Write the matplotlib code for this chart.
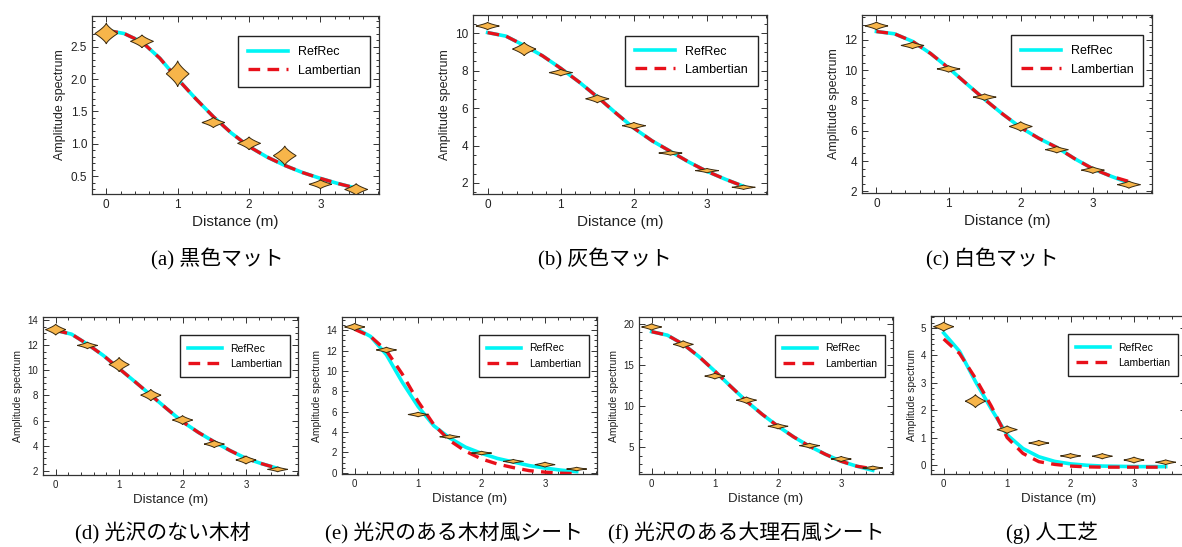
import matplotlib.pyplot as plt
import numpy as np
from matplotlib.ticker import MultipleLocator, AutoMinorLocator

plt.rcParams['font.family'] = ['Liberation Sans', 'DejaVu Sans']

# distances of the measured points and of the model curves
dist = [0, 0.5, 1, 1.5, 2, 2.5, 3, 3.5]
curve_x = [0, 0.25, 0.5, 0.75, 1, 1.25, 1.5, 1.75, 2, 2.25, 2.5, 2.75, 3, 3.25, 3.5]

# (a) black mat
meas_a = [2.70, 2.58, 2.08, 1.33, 1.01, 0.82, 0.38, 0.30]
spread_a = [0.16, 0.10, 0.20, 0.08, 0.10, 0.15, 0.07, 0.09]
refrec_a = [2.75, 2.70, 2.57, 2.32, 2.00, 1.70, 1.42, 1.17, 0.96, 0.80, 0.67, 0.56, 0.47, 0.39, 0.32]
lamb_a = [2.75, 2.70, 2.57, 2.32, 2.00, 1.70, 1.42, 1.17, 0.96, 0.80, 0.67, 0.56, 0.47, 0.39, 0.32]

# (b) gray mat
meas_b = [10.39, 9.16, 7.90, 6.50, 5.06, 3.60, 2.66, 1.77]
spread_b = [0.20, 0.36, 0.18, 0.22, 0.18, 0.12, 0.12, 0.12]
refrec_b = [10.04, 9.85, 9.35, 8.80, 8.13, 7.40, 6.60, 5.75, 4.93, 4.25, 3.69, 3.12, 2.62, 2.20, 1.82]
lamb_b = [10.04, 9.85, 9.35, 8.80, 8.13, 7.40, 6.60, 5.75, 4.93, 4.25, 3.69, 3.12, 2.62, 2.20, 1.82]

# (c) white mat
meas_c = [12.92, 11.63, 10.08, 8.22, 6.28, 4.75, 3.40, 2.44]
spread_c = [0.26, 0.22, 0.22, 0.22, 0.32, 0.22, 0.22, 0.24]
refrec_c = [12.55, 12.40, 11.90, 11.10, 10.14, 9.10, 8.07, 7.10, 6.21, 5.50, 4.90, 4.15, 3.49, 3.00, 2.55]
lamb_c = [12.55, 12.40, 11.90, 11.10, 10.14, 9.10, 8.07, 7.10, 6.21, 5.50, 4.90, 4.15, 3.49, 3.00, 2.65]

# (d) matte wood
meas_d = [13.26, 12.00, 10.47, 8.03, 6.04, 4.12, 2.85, 2.10]
spread_d = [0.44, 0.27, 0.57, 0.46, 0.36, 0.29, 0.33, 0.20]
refrec_d = [13.20, 12.90, 12.10, 11.20, 10.15, 9.10, 8.03, 6.95, 5.90, 5.05, 4.30, 3.60, 2.98, 2.55, 2.18]
lamb_d = [13.20, 12.90, 12.10, 11.20, 10.15, 9.10, 8.03, 6.95, 5.90, 5.05, 4.30, 3.60, 2.98, 2.55, 2.18]

# (e) glossy wood sheet
meas_e = [14.33, 12.07, 5.72, 3.53, 1.93, 1.11, 0.79, 0.36]
spread_e = [0.36, 0.28, 0.23, 0.21, 0.18, 0.20, 0.25, 0.18]
refrec_e = [14.26, 13.40, 11.60, 8.90, 6.50, 4.60, 3.40, 2.50, 1.90, 1.40, 1.05, 0.70, 0.45, 0.25, 0.10]
lamb_e = [14.10, 13.40, 12.00, 9.70, 7.00, 4.70, 3.15, 2.10, 1.35, 0.85, 0.50, 0.20, 0.05, -0.05, -0.10]

# (f) glossy marble sheet
meas_f = [19.60, 17.49, 13.64, 10.72, 7.55, 5.20, 3.58, 2.49]
spread_f = [0.40, 0.45, 0.36, 0.40, 0.32, 0.30, 0.32, 0.24]
refrec_f = [19.03, 18.60, 17.50, 16.00, 14.24, 12.40, 10.60, 9.00, 7.55, 6.25, 5.12, 4.15, 3.30, 2.70, 2.20]
lamb_f = [19.03, 18.60, 17.50, 16.00, 14.24, 12.40, 10.60, 9.00, 7.55, 6.25, 5.12, 4.15, 3.30, 2.70, 2.40]

# (g) artificial turf
meas_g = [5.05, 2.33, 1.29, 0.80, 0.33, 0.32, 0.18, 0.10]
spread_g = [0.17, 0.24, 0.14, 0.10, 0.09, 0.10, 0.11, 0.09]
refrec_g = [4.82, 4.15, 3.05, 2.05, 1.10, 0.60, 0.30, 0.13, 0.04, -0.01, -0.04, -0.05, -0.06, -0.06, -0.06]
lamb_g = [4.60, 4.07, 3.17, 2.15, 1.00, 0.42, 0.12, 0.02, -0.04, -0.07, -0.08, -0.08, -0.08, -0.08, -0.08]

captions = ['(a) 黒色マット', '(b) 灰色マット', '(c) 白色マット', '(d) 光沢のない木材',
            '(e) 光沢のある木材風シート', '(f) 光沢のある大理石風シート', '(g) 人工芝']

W, H = 1182, 547
fig = plt.figure(figsize=(W / 100, H / 100), dpi=100)


def pix_axes(x0, y0, x1, y1):
    return fig.add_axes([x0 / W, 1 - y1 / H, (x1 - x0) / W, (y1 - y0) / H])


def violin(ax, x, y, h, w=0.16):
    s = np.linspace(-1, 1, 41)
    half = w * (1 - np.abs(s)) ** 1.4
    xs = np.concatenate([x + half, (x - half)[::-1]])
    ys = np.concatenate([y + s * h, (y + s * h)[::-1]])
    ax.fill(xs, ys, facecolor='#F7B54A', edgecolor='#3a2a10', linewidth=0.7, zorder=4)


panels = [
    # box (px), ylim, ymajor, nminor, data..., small
    ((92, 16, 379, 194), (0.23, 2.97), 0.5, 5, meas_a, spread_a, refrec_a, lamb_a, False),
    ((473, 15, 767, 194), (1.41, 10.98), 2, 4, meas_b, spread_b, refrec_b, lamb_b, False),
    ((862, 15, 1152, 193), (1.89, 13.64), 2, 4, meas_c, spread_c, refrec_c, lamb_c, False),
    ((43, 317, 298, 475), (1.65, 14.27), 2, 4, meas_d, spread_d, refrec_d, lamb_d, True),
    ((342, 317, 597, 474), (-0.13, 15.31), 2, 4, meas_e, spread_e, refrec_e, lamb_e, True),
    ((639, 317, 893, 474), (1.76, 20.81), 5, 5, meas_f, spread_f, refrec_f, lamb_f, True),
    ((931, 316, 1186, 474), (-0.33, 5.44), 1, 5, meas_g, spread_g, refrec_g, lamb_g, True),
]

cap_pos = [(217, 259), (605, 259), (992, 259), (163, 533), (454, 533), (746, 533), (1052, 533)]

for i, (box, ylim, ymaj, nmin, meas, spread, ref, lamb, small) in enumerate(panels):
    ax = pix_axes(*box)
    ax.plot(curve_x, ref, color='#00F5F5', lw=2.6, label='RefRec', zorder=2)
    ax.plot(curve_x, lamb, color='#E8101A', lw=2.4, dashes=(3.5, 2.2), label='Lambertian', zorder=3)
    for x, y, h in zip(dist, meas, spread):
        violin(ax, x, y, h)
    ax.set_xlim(-0.2, 3.82)
    ax.set_ylim(*ylim)
    ax.xaxis.set_major_locator(MultipleLocator(1))
    ax.xaxis.set_minor_locator(AutoMinorLocator(5))
    ax.yaxis.set_major_locator(MultipleLocator(ymaj))
    ax.yaxis.set_minor_locator(AutoMinorLocator(nmin))
    tfs = 7 if small else 8.5
    ax.tick_params(which='both', direction='in', top=True, right=True, colors='#333333',
                   labelcolor='#222222', labelsize=tfs, width=0.7)
    ax.tick_params(which='major', length=4.5)
    ax.tick_params(which='minor', length=2.5)
    for sp in ax.spines.values():
        sp.set_color('#333333')
        sp.set_linewidth(0.9)
    ax.set_xlabel('Distance (m)', fontsize=9.5 if small else 11, color='#222222', labelpad=3)
    ax.set_ylabel('Amplitude spectrum', fontsize=7.5 if small else 9, color='#222222', labelpad=3)
    leg = ax.legend(loc='upper right', bbox_to_anchor=(0.97, 0.885), borderaxespad=0,
                    fontsize=7.5 if small else 9, fancybox=False, framealpha=1,
                    edgecolor='#222222', handlelength=3.2, borderpad=0.8, labelspacing=0.5)
    leg.get_frame().set_linewidth(1.0)
    leg.set_zorder(5)
    cx, cy = cap_pos[i]
    fig.text(cx / W, 1 - cy / H, captions[i], ha='center', va='center', fontsize=15,
             family=['Liberation Serif', 'Noto Sans CJK JP'])

fig.savefig('out.png', dpi=100)
